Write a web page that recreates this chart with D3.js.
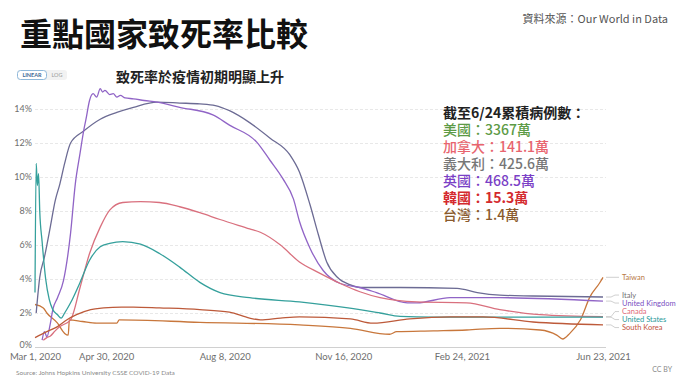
<!DOCTYPE html>
<html>
<head>
<meta charset="utf-8">
<script src="https://cdn.jsdelivr.net/npm/d3@7"></script>
<style>
  body { margin: 0; background: #fff; }
  svg { display: block; }
</style>
</head>
<body>
<svg id="root" width="692" height="378"></svg>
<script>
// 各國致死率 (%)，依 Our World in Data 圖讀出
const taiwan = [
  ['2020-03-01', 2.5], ['2020-03-08', 2.3], ['2020-03-11', 2.0], ['2020-03-20', 1.4],
  ['2020-03-26', 0.8], ['2020-03-29', 0.7], ['2020-03-30', 1.6], ['2020-04-10', 1.5],
  ['2020-04-22', 1.4], ['2020-05-09', 1.4], ['2020-05-11', 1.6], ['2020-07-18', 1.45],
  ['2020-10-10', 1.3], ['2020-11-22', 1.1], ['2020-12-25', 0.75], ['2020-12-31', 0.9],
  ['2021-01-31', 0.95], ['2021-02-28', 1.0], ['2021-03-28', 1.1], ['2021-05-01', 1.0],
  ['2021-05-15', 0.7], ['2021-05-20', 0.47], ['2021-05-26', 0.8], ['2021-06-04', 1.6],
  ['2021-06-12', 2.95], ['2021-06-20', 3.75], ['2021-06-23', 4.1]
]
const italy = [
  ['2020-03-02', 2.0], ['2020-03-05', 4.1], ['2020-03-09', 5.3], ['2020-03-14', 7.1],
  ['2020-03-18', 8.6], ['2020-03-22', 9.6], ['2020-03-26', 10.8], ['2020-03-31', 12.0],
  ['2020-04-11', 12.7], ['2020-04-25', 13.4], ['2020-05-09', 13.8], ['2020-05-23', 14.1],
  ['2020-06-12', 14.4], ['2020-07-01', 14.35], ['2020-07-18', 14.3], ['2020-07-31', 14.2],
  ['2020-08-12', 13.9], ['2020-08-29', 13.2], ['2020-09-15', 12.3], ['2020-10-02', 11.3],
  ['2020-10-10', 10.3], ['2020-10-19', 8.35], ['2020-10-26', 6.6], ['2020-11-02', 5.0],
  ['2020-11-11', 4.1], ['2020-11-22', 3.65], ['2020-11-30', 3.5], ['2020-12-17', 3.5],
  ['2021-01-03', 3.5], ['2021-02-20', 3.45], ['2021-03-09', 3.2], ['2021-03-28', 3.05],
  ['2021-04-25', 3.0], ['2021-06-23', 2.94]
]
const uk = [
  ['2020-03-07', 0.4], ['2020-03-09', 0.9], ['2020-03-11', 0.6], ['2020-03-14', 1.4],
  ['2020-03-16', 2.2], ['2020-03-20', 2.9], ['2020-03-25', 3.9], ['2020-03-31', 6.7],
  ['2020-04-04', 9.6], ['2020-04-08', 11.4], ['2020-04-11', 12.7], ['2020-04-13', 13.4],
  ['2020-04-16', 14.5], ['2020-04-19', 14.9], ['2020-04-22', 14.7], ['2020-04-25', 15.2],
  ['2020-04-27', 15.0], ['2020-04-29', 15.1], ['2020-05-03', 14.85], ['2020-05-06', 14.9],
  ['2020-05-09', 14.7], ['2020-05-12', 14.8], ['2020-05-16', 14.65], ['2020-05-23', 14.6],
  ['2020-06-01', 14.5], ['2020-06-12', 14.4], ['2020-07-01', 14.1], ['2020-07-29', 13.65],
  ['2020-08-12', 13.05], ['2020-09-04', 12.05], ['2020-09-15', 11.0], ['2020-09-26', 9.9],
  ['2020-10-05', 8.7], ['2020-10-10', 7.4], ['2020-10-19', 5.8], ['2020-10-30', 4.5],
  ['2020-11-13', 3.75], ['2020-11-30', 3.5], ['2020-12-14', 3.2], ['2021-01-09', 2.6],
  ['2021-01-17', 2.6], ['2021-02-14', 2.9], ['2021-03-11', 2.9], ['2021-03-28', 2.9],
  ['2021-06-23', 2.7]
]
const canada = [
  ['2020-03-08', 0.4], ['2020-03-11', 0.55], ['2020-03-14', 0.65], ['2020-03-18', 0.95],
  ['2020-03-22', 1.2], ['2020-03-31', 1.6], ['2020-04-08', 3.5], ['2020-04-16', 5.5],
  ['2020-04-25', 7.05], ['2020-05-03', 8.05], ['2020-05-14', 8.5], ['2020-05-29', 8.55],
  ['2020-06-14', 8.5], ['2020-07-01', 8.25], ['2020-07-18', 7.9], ['2020-08-04', 7.5],
  ['2020-08-29', 6.95], ['2020-09-07', 6.75], ['2020-09-24', 6.0], ['2020-10-10', 5.0],
  ['2020-10-27', 4.35], ['2020-11-13', 3.75], ['2020-11-30', 3.25], ['2020-12-17', 2.9],
  ['2021-01-17', 2.65], ['2021-02-28', 2.6], ['2021-03-28', 2.2], ['2021-05-01', 1.9],
  ['2021-06-23', 1.78]
]
const us = [
  ['2020-03-01', 3.2], ['2020-03-02', 10.8], ['2020-03-03', 9.5], ['2020-03-04', 10.2],
  ['2020-03-05', 8.0], ['2020-03-07', 6.2], ['2020-03-10', 4.0], ['2020-03-13', 2.8],
  ['2020-03-16', 2.2], ['2020-03-20', 1.9], ['2020-03-23', 1.7], ['2020-03-26', 2.0],
  ['2020-03-31', 2.6], ['2020-04-08', 3.8], ['2020-04-16', 5.1], ['2020-04-25', 5.9],
  ['2020-05-03', 6.1], ['2020-05-14', 6.2], ['2020-05-29', 6.05], ['2020-06-14', 5.5],
  ['2020-07-01', 4.7], ['2020-07-18', 3.8], ['2020-08-04', 3.2], ['2020-08-29', 2.9],
  ['2020-10-10', 2.65], ['2020-11-20', 2.3], ['2020-12-17', 2.0], ['2021-01-03', 1.8],
  ['2021-01-31', 1.76], ['2021-06-23', 1.76]
]
const korea = [
  ['2020-03-01', 0.55], ['2020-03-11', 0.9], ['2020-03-20', 1.2], ['2020-03-28', 1.6],
  ['2020-04-05', 1.9], ['2020-04-17', 2.2], ['2020-04-28', 2.3], ['2020-05-13', 2.35],
  ['2020-05-23', 2.35], ['2020-06-14', 2.3], ['2020-07-18', 2.2], ['2020-08-12', 2.05],
  ['2020-08-29', 1.7], ['2020-09-07', 1.6], ['2020-09-24', 1.7], ['2020-10-10', 1.77],
  ['2020-11-22', 1.65], ['2020-12-11', 1.4], ['2021-01-11', 1.65], ['2021-02-14', 1.77],
  ['2021-03-14', 1.77], ['2021-04-25', 1.47], ['2021-06-23', 1.3]
]

const countryNames = ['Taiwan', 'Italy', 'United Kingdom', 'Canada', 'United States', 'South Korea']
const countryValues = [taiwan, italy, uk, canada, us, korea]
const countryColors = ['#c8773c', '#6c6b94', '#9064c6', '#d9707e', '#35a09c', '#bd5a3a']
const labelColors = ['#b87a45', '#707070', '#7a4fbf', '#e06a7a', '#2a9a9a', '#c2543c']

const yTicks = [0, 2, 4, 6, 8, 10, 12, 14]
const xTicks = ['2020-03-01', '2020-04-30', '2020-08-08', '2020-11-16', '2021-02-24', '2021-06-23']

const noteTitle = '截至6/24累積病例數：'
const noteLines = ['美國：3367萬', '加拿大：141.1萬', '義大利：425.6萬', '英國：468.5萬', '韓國：15.3萬', '台灣：1.4萬']
const noteColors = ['#5c9a45', '#e8646e', '#777777', '#7a3fc6', '#d42a2e', '#8a5a2c']

const parse = d3.timeParse('%Y-%m-%d')
const cjk = '"Noto Sans CJK TC", "Noto Sans", sans-serif'
const latin = 'Lato, "Noto Sans", sans-serif'

const root = d3.select('#root')

let x = d3.scaleTime()
  .domain([parse('2020-03-01'), parse('2021-06-23')])
  .range([35, 603])
let y = d3.scaleLinear()
  .domain([0, 14])
  .range([347, 109])

// 標題
root.append('text')
  .attr('x', 20).attr('y', 46)
  .attr('font-family', cjk).attr('font-weight', 700)
  .attr('font-size', 32).attr('fill', '#111')
  .text('重點國家致死率比較')

root.append('text')
  .attr('x', 668).attr('y', 23)
  .attr('text-anchor', 'end')
  .attr('font-family', cjk).attr('font-size', 11).attr('fill', '#555')
  .text('資料來源：Our World in Data')

// LINEAR / LOG 切換
root.append('rect')
  .attr('x', 17).attr('y', 70).attr('width', 50).attr('height', 10)
  .attr('rx', 3).attr('fill', '#f2f2f2')
root.append('rect')
  .attr('x', 17.5).attr('y', 70.5).attr('width', 29).attr('height', 9)
  .attr('rx', 3).attr('fill', '#fff').attr('stroke', '#8fb8da')
root.append('text')
  .attr('x', 32).attr('y', 77.3).attr('text-anchor', 'middle')
  .attr('font-family', latin).attr('font-size', 5.5).attr('font-weight', 700)
  .attr('fill', '#3d6b96').text('LINEAR')
root.append('text')
  .attr('x', 57).attr('y', 77.3).attr('text-anchor', 'middle')
  .attr('font-family', latin).attr('font-size', 5.5)
  .attr('fill', '#999').text('LOG')

root.append('text')
  .attr('x', 200).attr('y', 82).attr('text-anchor', 'middle')
  .attr('font-family', cjk).attr('font-weight', 700)
  .attr('font-size', 14).attr('fill', '#222')
  .text('致死率於疫情初期明顯上升')

// Y 軸與格線
let yAxis = root.append('g')
  .attr('transform', 'translate(35,0)')
  .call(d3.axisLeft(y).tickValues(yTicks).tickFormat((d) => d + '%')
    .tickSize(-571).tickPadding(3))
yAxis.select('.domain').remove()
yAxis.selectAll('line')
  .attr('stroke', (d) => d === 0 ? '#d0d0d0' : '#e8e8e8')
  .attr('stroke-dasharray', (d) => d === 0 ? null : '3,2')
yAxis.selectAll('text')
  .attr('font-family', latin).attr('font-size', 9).attr('fill', '#6e6e6e')
yAxis.selectAll('.tick').filter((d) => d === 0).select('text').attr('dy', '0.1em')

// X 軸
let xAxis = root.append('g')
  .attr('transform', 'translate(0,347)')
  .call(d3.axisBottom(x).tickValues(xTicks.map(parse))
    .tickFormat(d3.timeFormat('%b %-d, %Y')).tickSize(0).tickPadding(6))
xAxis.select('.domain').remove()
xAxis.selectAll('text')
  .attr('font-family', latin).attr('font-size', 9.5).attr('fill', '#6e6e6e')

// 線
let line = d3.line()
  .x((d) => x(parse(d[0])))
  .y((d) => y(d[1]))
  .curve(d3.curveMonotoneX)

let series = countryNames.map((name, i) => ({
  name: name,
  values: countryValues[i],
  color: countryColors[i],
  labelColor: labelColors[i]
}))

root.selectAll('path.country').data(series).enter().append('path')
  .attr('class', 'country')
  .attr('d', (d) => line(d.values))
  .attr('fill', 'none')
  .attr('stroke', (d) => d.color)
  .attr('stroke-width', 1.3)
  .attr('stroke-linejoin', 'round')

// 右側標籤：重疊的就整群平均分開
series.forEach((d) => {
  d.endY = y(d.values[d.values.length - 1][1])
})
let sorted = series.slice().sort((a, b) => a.endY - b.endY)
let gap = 8
let groups = sorted.map((d) => ({ items: [d], center: d.endY }))
let merged = true
while (merged) {
  merged = false
  for (let i = 0; i < groups.length - 1; i++) {
    let a = groups[i]
    let b = groups[i + 1]
    let aBottom = a.center + (a.items.length - 1) * gap / 2
    let bTop = b.center - (b.items.length - 1) * gap / 2
    if (bTop - aBottom < gap) {
      let items = a.items.concat(b.items)
      groups.splice(i, 2, { items: items, center: d3.mean(items, (e) => e.endY) })
      merged = true
      break
    }
  }
}
groups.forEach((g) => {
  g.items.forEach((d, j) => {
    d.labelY = g.center + (j - (g.items.length - 1) / 2) * gap
  })
})

root.selectAll('path.connector').data(series).enter().append('path')
  .attr('class', 'connector')
  .attr('d', (d) => `M606,${d.endY}L611,${d.endY}L615,${d.labelY}L619,${d.labelY}`)
  .attr('fill', 'none')
  .attr('stroke', '#c4c4c4')
  .attr('stroke-width', 0.8)

root.selectAll('text.label').data(series).enter().append('text')
  .attr('class', 'label')
  .attr('x', 622)
  .attr('y', (d) => d.labelY)
  .attr('dy', '0.35em')
  .attr('font-family', latin)
  .attr('font-size', 7.5)
  .attr('fill', (d) => d.labelColor)
  .text((d) => d.name)

// 累積病例註解
root.append('text')
  .attr('x', 443).attr('y', 118)
  .attr('font-family', cjk).attr('font-weight', 700)
  .attr('font-size', 14).attr('fill', '#222')
  .text(noteTitle)

root.selectAll('text.note').data(noteLines).enter().append('text')
  .attr('class', 'note')
  .attr('x', 443)
  .attr('y', (d, i) => 135 + i * 16.9)
  .attr('font-family', cjk)
  .attr('font-weight', (d, i) => i === 4 ? 700 : 500)
  .attr('font-size', 14)
  .attr('fill', (d, i) => noteColors[i])
  .text((d) => d)

// 來源
root.append('text')
  .attr('x', 16).attr('y', 375)
  .attr('font-family', latin).attr('font-size', 6.5).attr('fill', '#8a8a8a')
  .text('Source: Johns Hopkins University CSSE COVID-19 Data')

root.append('text')
  .attr('x', 672).attr('y', 372).attr('text-anchor', 'end')
  .attr('font-family', latin).attr('font-size', 7).attr('fill', '#8a8a8a')
  .text('CC BY')
</script>
</body>
</html>
